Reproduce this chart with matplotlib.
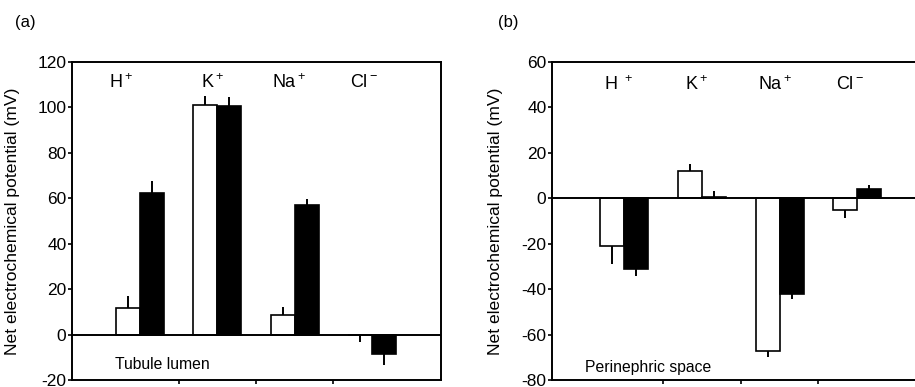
import numpy as np
import matplotlib
matplotlib.use("Agg")
import matplotlib.pyplot as plt

plt.rcParams["font.family"] = ["Liberation Sans", "DejaVu Sans"]
plt.rcParams["mathtext.fontset"] = "custom"
plt.rcParams["mathtext.rm"] = "Liberation Sans"
plt.rcParams["mathtext.it"] = "Liberation Sans"
plt.rcParams["axes.unicode_minus"] = False

ions_a = ["H$^+$", "K$^+$", "Na$^+$", "Cl$^-$"]
ions_b = ["H $^+$", "K$^+$", "Na$^+$", "Cl$^-$"]

# panel (a): tubule lumen
lumen_open = [11.8, 101.0, 8.8, -0.3]
lumen_open_err = [5.0, 4.0, 3.5, 3.0]
lumen_solid = [62.4, 100.6, 56.9, -8.6]
lumen_solid_err = [5.0, 4.0, 3.0, 4.7]

# panel (b): perinephric space
peri_open = [-21.1, 12.1, -67.4, -5.1]
peri_open_err = [7.7, 3.0, 2.6, 3.4]
peri_solid = [-31.0, 0.7, -42.3, 4.3]
peri_solid_err = [3.2, 2.6, 1.9, 1.5]


def one_sided(vals, errs):
    lo = [e if v < 0 else 0 for v, e in zip(vals, errs)]
    hi = [e if v >= 0 else 0 for v, e in zip(vals, errs)]
    return [lo, hi]


def draw_panel(ax, ions, open_v, open_e, solid_v, solid_e, ylim, yticks,
               xlim, label_y, label_dx, note, note_xy):
    x = np.arange(len(ions))
    w = 0.31
    for xs, v, e, fc in [(x - w / 2, open_v, open_e, "white"),
                         (x + w / 2, solid_v, solid_e, "black")]:
        ax.errorbar(xs, v, yerr=one_sided(v, e), fmt="none",
                    ecolor="black", elinewidth=1.4, capsize=0, zorder=2)
        ax.bar(xs, v, width=w, color=fc, edgecolor="black",
               linewidth=1.2, zorder=3)
    ax.axhline(0, color="black", lw=1.4, zorder=4)
    # ion names sit a little left of each group centre
    for xi, dx, name in zip(x, label_dx, ions):
        ax.text(xi + dx, label_y, name, ha="center", va="center",
                fontsize=13)
    ax.text(note_xy[0], note_xy[1], note, ha="left", va="center",
            fontsize=11.3)
    ax.set_xlim(*xlim)
    ax.set_ylim(*ylim)
    ax.set_yticks(yticks)
    ax.set_xticks([0.5, 1.5, 2.5])
    ax.set_xticklabels([])
    ax.tick_params(axis="both", direction="out", length=3, width=1.2,
                   pad=1, labelsize=12.5)
    for s in ax.spines.values():
        s.set_linewidth(1.4)
    ax.set_ylabel("Net electrochemical potential (mV)", fontsize=12.6)


fig = plt.figure(figsize=(9.15, 3.87), dpi=100)
W, H = 915, 387

ax_a = fig.add_axes([72 / W, 7 / H, 369 / W, 318 / H])
draw_panel(ax_a, ions_a, lumen_open, lumen_open_err, lumen_solid,
           lumen_solid_err, (-20, 120), range(-20, 121, 20),
           (-0.88, 3.89), 111, [-0.25, -0.07, -0.07, -0.1],
           "Tubule lumen", (-0.32, -13))
ax_a.yaxis.set_label_coords(-0.141, 0.5)

ax_b = fig.add_axes([552 / W, 7 / H, 369 / W, 318 / H])
draw_panel(ax_b, ions_b, peri_open, peri_open_err, peri_solid,
           peri_solid_err, (-80, 60), range(-80, 61, 20),
           (-0.93, 3.82), 50, [-0.08, -0.07, -0.06, -0.1],
           "Perinephric space", (-0.5, -74.5))
ax_b.yaxis.set_label_coords(-0.133, 0.5)

fig.text(15 / W, 1 - 23 / H, "(a)", fontsize=12, va="center", ha="left")
fig.text(498 / W, 1 - 23 / H, "(b)", fontsize=12, va="center", ha="left")

fig.savefig("out.png", dpi=100)
